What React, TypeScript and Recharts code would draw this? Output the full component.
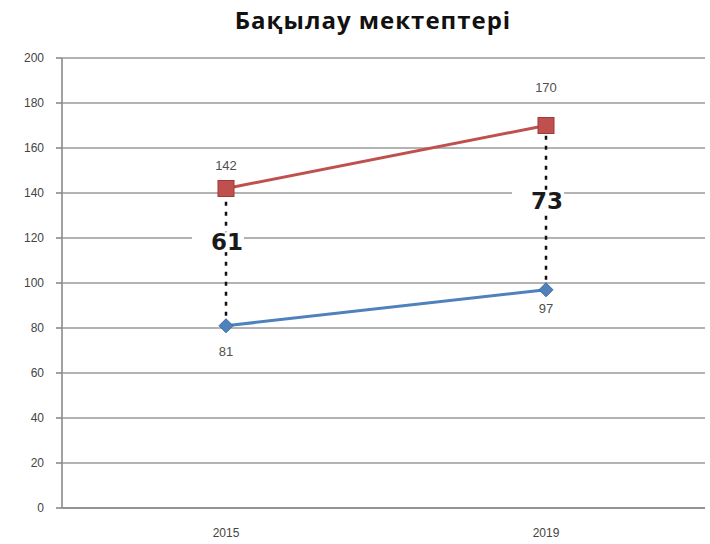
import { CartesianGrid, LineChart, Line, ReferenceLine, ReferenceDot, XAxis, YAxis } from "recharts";

const years = ["2015", "2019"];
const controlSchools = [142, 170];
const otherSchools = [81, 97];
const yTicks = [0, 20, 40, 60, 80, 100, 120, 140, 160, 180, 200];

const data = years.map((year, i) => ({ year, top: controlSchools[i], bottom: otherSchools[i] }));

const RED = "#c0504d";
const BLUE = "#4f81bd";
const topLabelOffset = [-22, -37];
const bottomLabelOffset = [27, 20];
const diffLabelShift = [-15, -6];

function Square(props: any) {
  const { cx, cy } = props;
  if (cx == null || cy == null) return null;
  return <rect x={cx - 8} y={cy - 8} width={16} height={16} fill={RED} stroke="#9c3b38" strokeWidth={1} />;
}

function Diamond(props: any) {
  const { cx, cy } = props;
  if (cx == null || cy == null) return null;
  return <path d={`M${cx} ${cy - 7} L${cx + 7} ${cy} L${cx} ${cy + 7} L${cx - 7} ${cy} Z`} fill={BLUE} stroke="#3d6a9e" />;
}

function valueLabel(offsets: number[]) {
  return (props: any) => {
    const { x, y, value, index } = props;
    return (
      <text x={x} y={y + offsets[index]} textAnchor="middle" dominantBaseline="middle" fontSize={13} fill="#505050" fontFamily="Liberation Sans, Arial">
        {value}
      </text>
    );
  };
}

function DiffLabel(props: any) {
  const { cx, cy, text, shift } = props;
  if (cx == null || cy == null) return null;
  const y = cy + shift;
  return (
    <g>
      <rect x={cx - 34} y={y - 10} width={52} height={20} fill="#fff" />
      <text x={cx + 1} y={y + 1} textAnchor="middle" dominantBaseline="middle" fontSize={23} fontWeight="bold" fill="#1a1a1a" fontFamily="DejaVu Sans">
        {text}
      </text>
    </g>
  );
}

export default function App() {
  return (
    <div style={{ position: "absolute", left: 0, top: 0, width: 710, height: 544, background: "#fff" }}>
      <div style={{ position: "absolute", left: 0, top: 3, width: 746, textAlign: "center", fontFamily: "Open Sans, sans-serif", fontWeight: 700, fontSize: 24, letterSpacing: 1, color: "#111" }}>
        Бақылау мектептері
      </div>
      <LineChart width={710} height={544} data={data} margin={{ top: 58, right: 5, bottom: 6, left: 0 }}>
        <CartesianGrid vertical={false} stroke="#9a9a9a" strokeWidth={1.6} />
        <XAxis
          dataKey="year"
          padding={{ left: 164, right: 159 }}
          tickLine={false}
          tickSize={6}
          tickMargin={14}
          height={30}
          stroke="#8a8a8a"
          strokeWidth={1.6}
          tick={{ fill: "#444", fontSize: 12, fontFamily: "Liberation Sans, Arial" }}
        />
        <YAxis
          domain={[0, 200]}
          ticks={yTicks}
          width={62}
          tickSize={6}
          tickMargin={12}
          stroke="#8a8a8a"
          strokeWidth={1.6}
          tick={{ fill: "#444", fontSize: 12, fontFamily: "Liberation Sans, Arial" }}
        />
        {data.map((d) => (
          <ReferenceLine
            key={d.year}
            segment={[{ x: d.year, y: d.bottom }, { x: d.year, y: d.top }]}
            stroke="#111"
            strokeWidth={2.5}
            strokeDasharray="4 6"
          />
        ))}
        <Line
          dataKey="top"
          stroke={RED}
          strokeWidth={3}
          dot={<Square />}
          activeDot={false}
          label={valueLabel(topLabelOffset)}
          isAnimationActive={false}
        />
        <Line
          dataKey="bottom"
          stroke={BLUE}
          strokeWidth={3}
          dot={<Diamond />}
          activeDot={false}
          label={valueLabel(bottomLabelOffset)}
          isAnimationActive={false}
        />
        {data.map((d, i) => (
          <ReferenceDot
            key={"diff" + d.year}
            x={d.year}
            y={(d.top + d.bottom) / 2}
            shape={<DiffLabel text={String(d.top - d.bottom)} shift={diffLabelShift[i]} />}
          />
        ))}
      </LineChart>
    </div>
  );
}
